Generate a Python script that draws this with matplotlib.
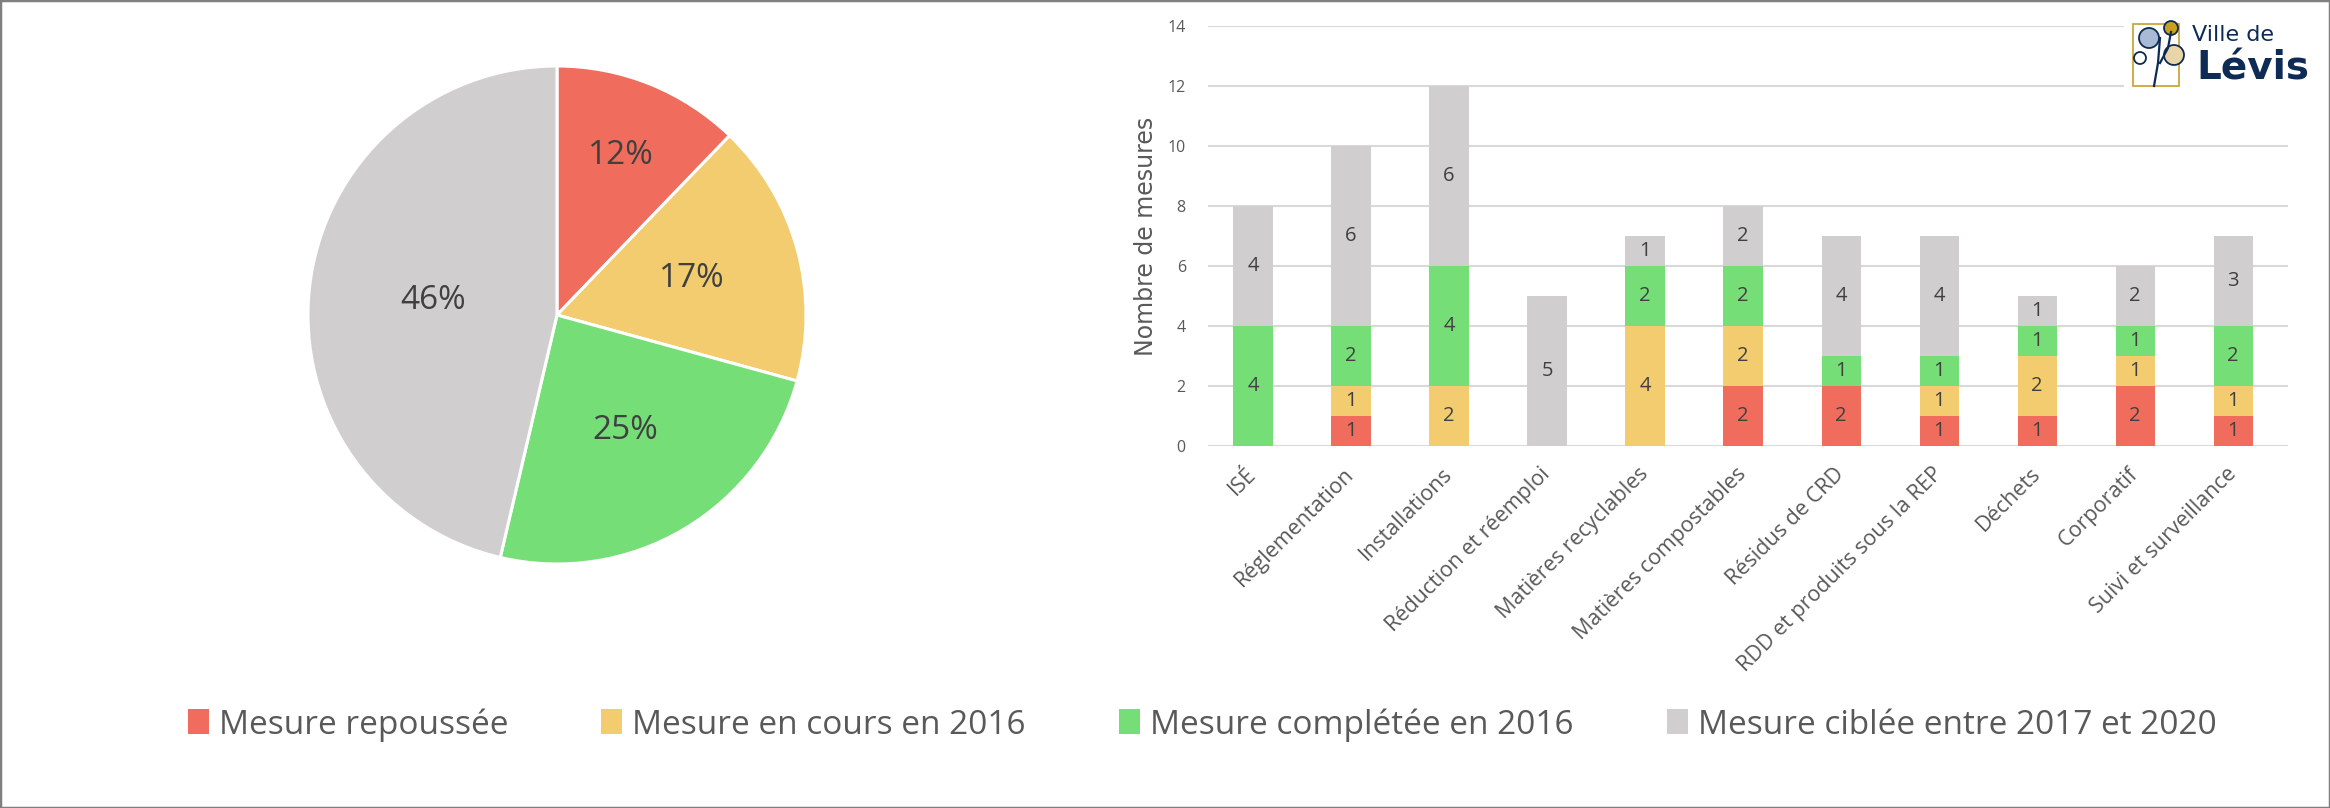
import matplotlib
matplotlib.use("Agg")
import matplotlib.pyplot as plt
import numpy as np
from matplotlib.patches import Patch, Rectangle, Circle

plt.rcParams["font.family"] = ["Open Sans", "DejaVu Sans"]

categories = ["ISÉ", "Réglementation", "Installations", "Réduction et réemploi",
              "Matières recyclables", "Matières compostables", "Résidus de CRD",
              "RDD et produits sous la REP", "Déchets", "Corporatif",
              "Suivi et surveillance"]
repoussee = [0, 1, 0, 0, 0, 2, 2, 1, 1, 2, 1]
en_cours = [0, 1, 2, 0, 4, 2, 0, 1, 2, 1, 1]
completee = [4, 2, 4, 0, 2, 2, 1, 1, 1, 1, 2]
ciblee = [4, 6, 6, 5, 1, 2, 4, 4, 1, 2, 3]

series_names = ["Mesure repoussée", "Mesure en cours en 2016",
                "Mesure complétée en 2016", "Mesure ciblée entre 2017 et 2020"]
pie_counts = [10, 14, 20, 38]
pie_labels = ["12%", "17%", "25%", "46%"]

colors = ["#F06D5E", "#F2CC6F", "#76DE77", "#D0CECF"]
txt = "#404040"
grey_txt = "#595959"
navy = "#0D2B55"

W, H = 2330, 808
fig = plt.figure(figsize=(W / 100, H / 100), dpi=100)

# --- camembert
cx, cy, r = 557, 315, 249
axp = fig.add_axes([(cx - r) / W, (H - cy - r) / H, 2 * r / W, 2 * r / H])
wedges, _ = axp.pie(pie_counts, colors=colors, startangle=90, counterclock=False,
                    wedgeprops=dict(edgecolor="white", linewidth=2.2))
axp.set_xlim(-1, 1)
axp.set_ylim(-1, 1)
label_dist = [0.69, 0.56, 0.54, 0.50]
for w, lab, d in zip(wedges, pie_labels, label_dist):
    a = np.deg2rad((w.theta1 + w.theta2) / 2)
    axp.text(d * np.cos(a), d * np.sin(a), lab, ha="center", va="center",
             fontsize=24, color=txt)

# --- barres empilées
x0, x1 = 1208, 2288
y_top, y_bot = 26, 446
ax = fig.add_axes([x0 / W, (H - y_bot) / H, (x1 - x0) / W, (y_bot - y_top) / H])
x = np.arange(len(categories))
bottom = np.zeros(len(categories))
for vals, c in zip([repoussee, en_cours, completee, ciblee], colors):
    vals = np.array(vals)
    ax.bar(x, vals, 0.4, bottom=bottom, color=c, zorder=3)
    for xi, b, v in zip(x, bottom, vals):
        if v > 0:
            ax.text(xi, b + v / 2, str(v), ha="center", va="center",
                    fontsize=14.5, color=txt, zorder=4)
    bottom += vals

ax.set_ylim(0, 14)
ax.set_xlim(-0.46, 10.56)
ax.set_yticks(range(0, 15, 2))
ax.grid(axis="y", color="#D9D9D9", linewidth=1.5, zorder=0)
for s in ax.spines.values():
    s.set_visible(False)
ax.tick_params(length=0)
ax.tick_params(axis="y", labelsize=11.5, labelcolor=grey_txt, pad=16)
ax.set_xticks(x)
ax.set_xticklabels(categories, rotation=45, ha="right", va="center",
                   rotation_mode="anchor", fontsize=15.5, color=grey_txt)
ax.tick_params(axis="x", pad=18)
ax.set_ylabel("Nombre de mesures", fontsize=17, color=grey_txt,
              family="DejaVu Sans", labelpad=7)

# --- logo Ville de Lévis (axes en pixels)
axl = fig.add_axes([2124 / W, 1 - 100 / H, 190 / W, 92 / H], zorder=5)
axl.set_xlim(0, 190)
axl.set_ylim(92, 0)
axl.axis("off")
axl.add_patch(Rectangle((0, 0), 190, 92, facecolor="white", edgecolor="none"))
axl.add_patch(Rectangle((9, 16), 46, 62, facecolor="none", edgecolor="#C9A63A",
                        linewidth=1.3))
axl.plot([30, 34, 36], [78, 55, 30], color=navy, linewidth=1.6)
axl.plot([36, 44, 47], [55, 40, 24], color=navy, linewidth=1.6)
for (px, py, pr, pc) in [(25, 30, 10, "#A9BAD6"), (47, 20, 7, "#C9A020"),
                         (50, 47, 10, "#EAD5A8"), (16, 50, 6, "white")]:
    axl.add_patch(Circle((px, py), pr, facecolor=pc, edgecolor=navy, linewidth=1.3))
axl.text(68, 27, "Ville de", fontsize=16, color=navy, va="center",
         family=["Liberation Sans Narrow", "DejaVu Sans Condensed", "DejaVu Sans"])
axl.text(72, 60, "Lévis", fontsize=28, color=navy, weight="bold", va="center",
         family=["Liberation Sans Narrow", "DejaVu Sans Condensed", "DejaVu Sans"])

# --- légende
handles = [Patch(facecolor=c, edgecolor="none") for c in colors]
leg = fig.legend(handles, series_names, loc="center", bbox_to_anchor=(0.516, 0.103),
                 ncol=4, frameon=False, fontsize=24, handlelength=0.63,
                 handleheight=0.78, handletextpad=0.3, columnspacing=2.8)
for t in leg.get_texts():
    t.set_color(grey_txt)

# cadre
fig.patches.append(Rectangle((0, 0), 1, 1, transform=fig.transFigure,
                             facecolor="none", edgecolor="#7F7F7F", linewidth=2.5,
                             zorder=10))

fig.savefig("out.png", dpi=100)
